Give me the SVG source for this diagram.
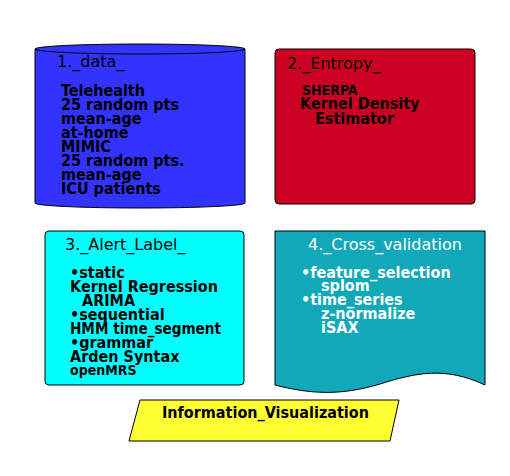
<svg xmlns="http://www.w3.org/2000/svg" width="510" height="476" viewBox="0 0 510 476">
  <style>
    .shape { stroke: #000; stroke-width: 1; }
    text { font-family: "DejaVu Sans Condensed", "DejaVu Sans", sans-serif; font-stretch: condensed; font-size: 16px; font-weight: bold; fill: #000; }
    .title { font-family: "DejaVu Sans", sans-serif; font-stretch: normal; font-weight: normal; }
    .small { font-size: 14px; }
    .light { fill: #fff; }
  </style>
  <rect width="510" height="476" fill="#fff"/>

  <!-- 1. data store (cylinder) -->
  <g id="data">
    <path class="shape" fill="#3333ff" d="M35,49 L35,203 A105,5 0 0 0 245,203 L245,49 A105,5 0 0 0 35,49 Z"/>
    <path class="shape" fill="none" d="M35,49 A105,5 0 0 0 245,49"/>
    <text class="title" x="57" y="67">1._data_</text>
    <text x="61" y="96">Telehealth</text>
    <text x="61" y="110">25 random pts</text>
    <text x="61" y="124">mean-age</text>
    <text x="61" y="138">at-home</text>
    <text x="61" y="152">MIMIC</text>
    <text x="61" y="166">25 random pts.</text>
    <text x="61" y="180">mean-age</text>
    <text x="61" y="194">ICU patients</text>
  </g>

  <!-- 2. entropy -->
  <g id="entropy">
    <rect class="shape" x="275" y="49" width="200" height="155" rx="4" fill="#cc0022"/>
    <text class="title" x="287" y="69">2._Entropy_</text>
    <text class="small" x="302" y="95">SHERPA</text>
    <text x="300" y="109">Kernel Density</text>
    <text x="315" y="124">Estimator</text>
  </g>

  <!-- 3. alert label -->
  <g id="alert_label">
    <rect class="shape" x="45" y="231" width="199" height="154" rx="4" fill="#00ffff"/>
    <text class="title" x="65" y="250">3._Alert_Label_</text>
    <text x="70" y="278">•static</text>
    <text x="70" y="292">Kernel Regression</text>
    <text x="82" y="306">ARIMA</text>
    <text x="70" y="320">•sequential</text>
    <text x="70" y="334" textLength="151" lengthAdjust="spacingAndGlyphs">HMM time_segment</text>
    <text x="70" y="348">•grammar</text>
    <text x="70" y="362">Arden Syntax</text>
    <text class="small" x="70" y="375">openMRS</text>
  </g>

  <!-- 4. cross validation (document shape) -->
  <g id="cross_validation">
    <path class="shape" fill="#11a9b9" d="M275,231 L485,231 L485,385 C445,366 415,373 380,384 C340,396 310,394 275,385 Z"/>
    <text class="title light" x="308" y="250">4._Cross_validation</text>
    <text class="light" x="301" y="278">•feature_selection</text>
    <text class="light" x="321" y="291">splom</text>
    <text class="light" x="301" y="305">•time_series</text>
    <text class="light" x="321" y="319">z-normalize</text>
    <text class="light" x="321" y="333">iSAX</text>
  </g>

  <!-- information visualization (parallelogram) -->
  <g id="information_visualization">
    <polygon class="shape" fill="#ffff33" points="140,400 399,400 390,441 129,441"/>
    <text x="162" y="418">Information_Visualization</text>
  </g>

  <g id="connectors"></g>
</svg>
